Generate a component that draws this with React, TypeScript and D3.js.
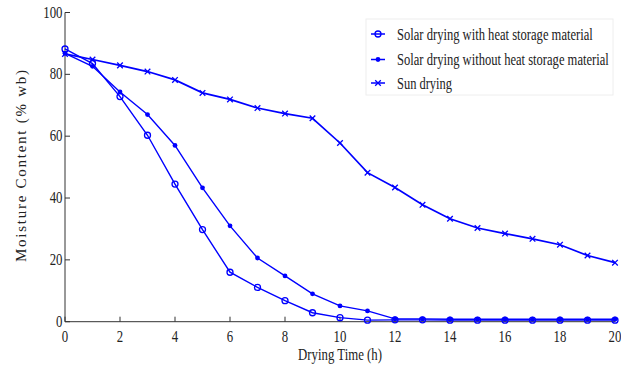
import { useRef, useEffect } from "react";
import * as d3 from "d3";

const hours = [0, 1, 2, 3, 4, 5, 6, 7, 8, 9, 10, 11, 12, 13, 14, 15, 16, 17, 18, 19, 20];
const withStorage = [88.2, 83.5, 72.8, 60.3, 44.5, 29.8, 16.0, 11.1, 6.8, 2.9, 1.3, 0.5, 0.6, 0.6, 0.5, 0.5, 0.5, 0.5, 0.5, 0.5, 0.5];
const withoutStorage = [86.8, 82.6, 74.3, 67.0, 57.0, 43.3, 31.0, 20.6, 14.8, 9.0, 5.1, 3.5, 0.9, 0.9, 0.8, 0.8, 0.8, 0.8, 0.8, 0.8, 0.8];
const sunDrying = [86.6, 84.8, 82.9, 80.9, 78.2, 74.0, 71.9, 69.1, 67.3, 65.8, 57.8, 48.2, 43.4, 37.8, 33.3, 30.3, 28.5, 26.8, 24.9, 21.4, 19.1];
const seriesNames = [
  "Solar drying with heat storage material",
  "Solar drying without heat storage material",
  "Sun drying",
];
const xTicks = [0, 2, 4, 6, 8, 10, 12, 14, 16, 18, 20];
const yTicks = [0, 20, 40, 60, 80, 100];

export default function App() {
  const svgRef = useRef(null);

  useEffect(() => {
    const svg = d3.select(svgRef.current);
    svg.selectAll("*").remove();

    const x = d3.scaleLinear().domain([0, 20]).range([65, 615]);
    const y = d3.scaleLinear().domain([0, 100]).range([321.7, 12.5]);
    const blue = "#0000ff";
    const font = "'Liberation Serif', 'Times New Roman', serif";
    const sx = 0.8;

    // axes
    const axisG = svg.append("g").attr("stroke", "#333").attr("stroke-width", 1);
    axisG.append("line").attr("x1", x(0)).attr("x2", x(0)).attr("y1", y(100)).attr("y2", y(0));
    axisG.append("line").attr("x1", x(0)).attr("x2", x(20)).attr("y1", y(0)).attr("y2", y(0));
    yTicks.forEach((t) => {
      axisG.append("line").attr("x1", x(0)).attr("x2", x(0) + 5).attr("y1", y(t)).attr("y2", y(t));
    });
    xTicks.forEach((t) => {
      axisG.append("line").attr("x1", x(t)).attr("x2", x(t)).attr("y1", y(0)).attr("y2", y(0) - 5);
    });

    const label = (px: number, py: number, txt: string, anchor: string, size: number, scl = sx) =>
      svg.append("text")
        .attr("transform", `translate(${px},${py}) scale(${scl},1)`)
        .attr("text-anchor", anchor)
        .attr("font-family", font)
        .attr("font-size", size)
        .attr("fill", "#222")
        .text(txt);

    yTicks.forEach((t) => label(62.5, y(t) + 5, String(t), "end", 16));
    xTicks.forEach((t) => label(x(t), 342, String(t), "middle", 16));

    label(340, 360, "Drying Time (h)", "middle", 16);

    svg.append("text")
      .attr("transform", `translate(26,166) rotate(-90)`)
      .attr("text-anchor", "middle")
      .attr("font-family", font)
      .attr("font-size", 15)
      .attr("fill", "#222")
      .attr("textLength", 192)
      .attr("lengthAdjust", "spacing")
      .text("Moisture Content (% wb)");

    const line = d3.line<number>()
      .x((d, i) => x(hours[i]))
      .y((d) => y(d));

    const drawMarker = (g: any, kind: number, cx: number, cy: number) => {
      if (kind === 0) {
        g.append("circle").attr("cx", cx).attr("cy", cy).attr("r", 3)
          .attr("fill", "none").attr("stroke", blue).attr("stroke-width", 1.3);
      } else if (kind === 1) {
        g.append("circle").attr("cx", cx).attr("cy", cy).attr("r", 2.4).attr("fill", blue);
      } else {
        const s = 2.8;
        g.append("path")
          .attr("d", `M${cx - s},${cy - s}L${cx + s},${cy + s}M${cx - s},${cy + s}L${cx + s},${cy - s}`)
          .attr("stroke", blue).attr("stroke-width", 1.3);
      }
    };

    const allSeries = [withStorage, withoutStorage, sunDrying];
    const widths = [1.4, 1.4, 1.7];
    allSeries.forEach((vals, k) => {
      const g = svg.append("g");
      g.append("path").attr("d", line(vals)).attr("fill", "none")
        .attr("stroke", blue).attr("stroke-width", widths[k]);
      vals.forEach((v, i) => drawMarker(g, k, x(hours[i]), y(v)));
    });

    // legend
    const leg = svg.append("g");
    leg.append("rect").attr("x", 366).attr("y", 19).attr("width", 247).attr("height", 76)
      .attr("fill", "#fff").attr("stroke", "#eeeeee");
    const rowsY = [34, 59.5, 83];
    const textLens = [196, 212, 55];
    seriesNames.forEach((nm, k) => {
      const ry = rowsY[k];
      leg.append("line").attr("x1", 371).attr("x2", 385).attr("y1", ry).attr("y2", ry)
        .attr("stroke", blue).attr("stroke-width", 1.5);
      drawMarker(leg, k, 378, ry);
      const t = leg.append("text")
        .attr("font-family", font)
        .attr("font-size", 17)
        .attr("fill", "#222")
        .text(nm);
      const natural = (t.node() as SVGTextElement).getComputedTextLength() || textLens[k];
      t.attr("transform", `translate(397,${ry + 5.5}) scale(${textLens[k] / natural},1)`);
    });
  }, []);

  return (
    <svg ref={svgRef} width={621} height={370}
      style={{ position: "absolute", left: 0, top: 0, background: "#fff" }} />
  );
}
